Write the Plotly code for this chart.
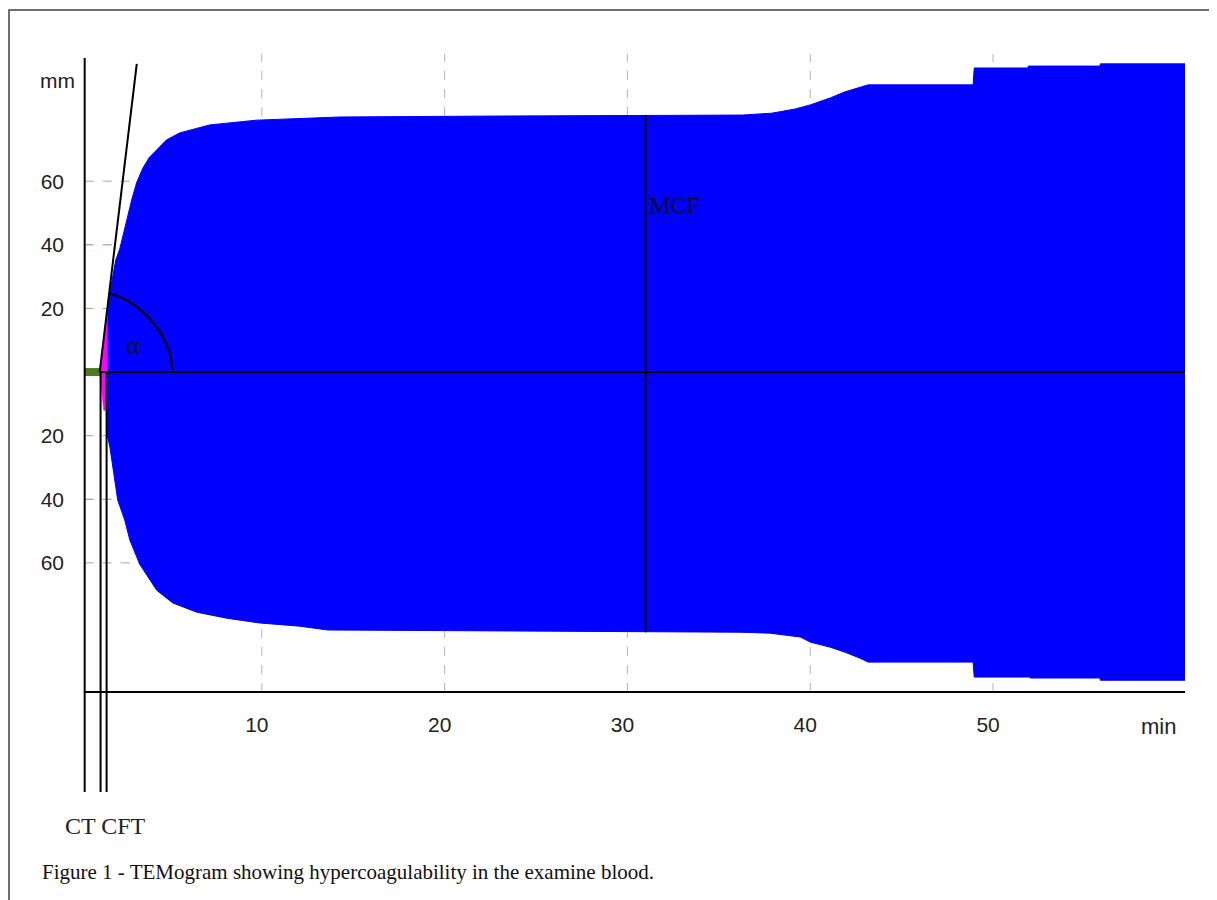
import plotly.graph_objects as go

# ---------------- data ----------------
# upper amplitude envelope (min, mm)
time_upper = [1.55, 1.55, 1.68, 1.84, 2.01, 2.23, 2.61, 2.88, 3.16, 3.50, 3.85, 4.25, 4.79, 5.51,
              6.06, 7.15, 9.72, 14.27, 23.0, 36.3, 37.9, 39.17, 40.0, 41.1, 41.9, 43.17, 48.91,
              48.97, 51.90, 51.93, 55.85, 55.87, 60.5]
amp_upper = [0.0, 20.0, 24.8, 30.5, 35.2, 38.7, 47.8, 54.1, 59.7, 64.2, 67.5, 69.8, 73.0, 75.2,
             76.1, 77.7, 79.2, 80.2, 80.5, 80.8, 81.4, 82.7, 84.0, 86.2, 88.1, 90.3, 90.3,
             95.6, 95.6, 96.2, 96.2, 96.9, 96.9]
# lower amplitude envelope (min, mm)
time_lower = [1.55, 1.55, 1.69, 1.90, 2.12, 2.50, 2.78, 3.32, 3.71, 4.25, 5.13, 6.44, 8.08, 9.89,
              12.07, 13.6, 36.16, 37.8, 39.45, 40.0, 41.09, 41.91, 42.73, 43.17, 48.91, 48.97,
              52.0, 52.04, 55.85, 55.87, 60.5]
amp_lower = [0.0, -20.0, -23.6, -32.0, -40.3, -46.5, -52.8, -60.4, -63.8, -68.6, -72.6, -75.5,
             -77.4, -78.9, -79.9, -81.1, -81.8, -82.1, -83.3, -84.9, -86.5, -88.1, -90.0, -91.2,
             -91.2, -95.9, -95.9, -96.2, -96.2, -96.9, -96.9]
# clot-formation (CFT) phase wedge, magenta
cft_wedge_time = [1.13, 1.42, 1.55, 1.55, 1.35, 1.13]
cft_wedge_amp = [0.0, 14.5, 19.0, -12.0, -12.0, 0.0]

ct_time = 0.31          # clotting time marker / start of trace
cft_times = [1.18, 1.51]
mcf_time = 31.0
mcf_top, mcf_bottom = 80.8, -81.8
tangent_time = [1.13, 3.16]
tangent_amp = [0.0, 96.9]
alpha_arc_time = [1.68, 3.2, 5.1, 5.1]     # cubic bezier: start, c1, c2, end
alpha_arc_amp = [24.6, 23.0, 12.0, 0.0]

x_ticks = [10, 20, 30, 40, 50]
y_ticks = [60, 40, 20, -20, -40, -60]
y_tick_text = ["60", "40", "20", "20", "40", "60"]
grid_colors_y = ["#a8a8a8", "#6aa56a", "#94ad94", "#a8a8a8", "#6aa56a", "#a8a8a8"]

x_range = [0, 60.5]
y_range = [-100.6, 100]

caption = "Figure 1 - TEMogram showing hypercoagulability in the examine blood."

# ---------------- figure ----------------
OFF = 8                      # page body margin of the html
W, H = 1217 - OFF, 900 - OFF
ML, MR, MT, MB = 79 - OFF, 32, 54 - OFF, 208
plot_w = W - ML - MR
plot_h = H - MT - MB


def py(px):
    """reference pixel row -> paper y"""
    return (H - MB - (px - OFF)) / plot_h


def pxx(px):
    """reference pixel column -> paper x"""
    return ((px - OFF) - ML) / plot_w


sans = "Liberation Sans, Arial, sans-serif"
serif = "Liberation Serif, Times New Roman, serif"

fig = go.Figure()

fig.add_trace(go.Scatter(
    x=time_upper + time_lower[::-1],
    y=amp_upper + amp_lower[::-1],
    mode="lines", fill="toself", fillcolor="#0000ff",
    line=dict(color="#0000ff", width=1), hoverinfo="skip"))

fig.add_trace(go.Scatter(
    x=cft_wedge_time, y=cft_wedge_amp, mode="lines", fill="toself",
    fillcolor="#ff00ff", line=dict(color="#ff00ff", width=0.5), hoverinfo="skip"))

shapes = []
for t in x_ticks:
    shapes.append(dict(type="line", xref="x", yref="y", x0=t, x1=t, y0=y_range[0], y1=y_range[1],
                       line=dict(color="#b4b4b4", width=1, dash="dash"), layer="below"))
for v, c in zip(y_ticks, grid_colors_y):
    shapes.append(dict(type="line", xref="x", yref="y", x0=ct_time, x1=x_range[1], y0=v, y1=v,
                       line=dict(color=c, width=1, dash="dash"), layer="below"))

# x axis line (bottom edge of the plot area)
shapes.append(dict(type="line", xref="x", yref="paper", x0=ct_time, x1=x_range[1],
                   y0=0, y1=0, line=dict(color="#000", width=2)))
# baseline
shapes.append(dict(type="line", xref="x", yref="y", x0=ct_time, x1=x_range[1], y0=0, y1=0,
                   line=dict(color="#000", width=2)))
# CT segment (green)
shapes.append(dict(type="line", xref="x", yref="y", x0=ct_time, x1=cft_times[0], y0=0, y1=0,
                   line=dict(color="#4b7d1e", width=8)))
# CT line / y axis
shapes.append(dict(type="line", xref="x", yref="paper", x0=ct_time, x1=ct_time,
                   y0=py(792), y1=py(58), line=dict(color="#000", width=2)))
# CFT lines
for t in cft_times:
    shapes.append(dict(type="line", xref="x", yref="paper", x0=t, x1=t,
                       y0=py(792), y1=py(372), line=dict(color="#000", width=2)))
# MCF line
shapes.append(dict(type="line", xref="x", yref="y", x0=mcf_time, x1=mcf_time,
                   y0=mcf_bottom, y1=mcf_top, line=dict(color="#000", width=2)))
# alpha tangent
shapes.append(dict(type="line", xref="x", yref="y", x0=tangent_time[0], x1=tangent_time[1],
                   y0=tangent_amp[0], y1=tangent_amp[1], line=dict(color="#000", width=2)))
# alpha arc
a_t, a_a = alpha_arc_time, alpha_arc_amp
shapes.append(dict(type="path", xref="x", yref="y",
                   path=f"M {a_t[0]},{a_a[0]} C {a_t[1]},{a_a[1]} {a_t[2]},{a_a[2]} {a_t[3]},{a_a[3]}",
                   line=dict(color="#000", width=2)))
# outer frame
shapes.append(dict(type="rect", xref="paper", yref="paper", x0=pxx(9), x1=pxx(1215),
                   y0=py(930), y1=py(10), line=dict(color="#404040", width=1.5)))

annotations = [
    dict(text="mm", xref="paper", yref="paper", x=pxx(57), y=py(80), showarrow=False,
         xanchor="center", yanchor="middle", font=dict(family=sans, size=21, color="#222")),
    dict(text="min", xref="paper", yref="paper", x=pxx(1158), y=py(726), showarrow=False,
         xanchor="center", yanchor="middle", font=dict(family=sans, size=22, color="#222")),
    dict(text="MCF", xref="x", yref="y", x=mcf_time + 0.05, y=52.5, xanchor="left",
         yanchor="middle", showarrow=False, font=dict(family=serif, size=24, color="#0a0a30")),
    dict(text="α", xref="x", yref="y", x=2.94, y=8.5, showarrow=False,
         xanchor="center", yanchor="middle", font=dict(family=serif, size=26, color="#101020")),
    dict(text="CT CFT", xref="paper", yref="paper", x=pxx(105), y=py(826), showarrow=False,
         xanchor="center", yanchor="middle", font=dict(family=serif, size=24, color="#222")),
    dict(text=caption, xref="paper", yref="paper", x=pxx(40), y=py(872), xanchor="left",
         yanchor="middle", showarrow=False, font=dict(family=serif, size=21, color="#111")),
]

fig.update_layout(
    width=W, height=H,
    margin=dict(l=ML, r=MR, t=MT, b=MB, autoexpand=False),
    paper_bgcolor="white", plot_bgcolor="white",
    showlegend=False, hovermode=False,
    shapes=shapes, annotations=annotations,
    xaxis=dict(range=x_range, tickvals=x_ticks, ticktext=[str(t) for t in x_ticks],
               showgrid=False, zeroline=False, showline=False, ticks="",
               ticklabelstandoff=18, ticklabelshift=-5,
               tickfont=dict(family=sans, size=21, color="#222")),
    yaxis=dict(range=y_range, tickvals=y_ticks, ticktext=y_tick_text,
               showgrid=False, zeroline=False, showline=False, ticks="",
               ticklabelstandoff=14,
               tickfont=dict(family=sans, size=21, color="#222")),
)

fig.write_html("out.html")
